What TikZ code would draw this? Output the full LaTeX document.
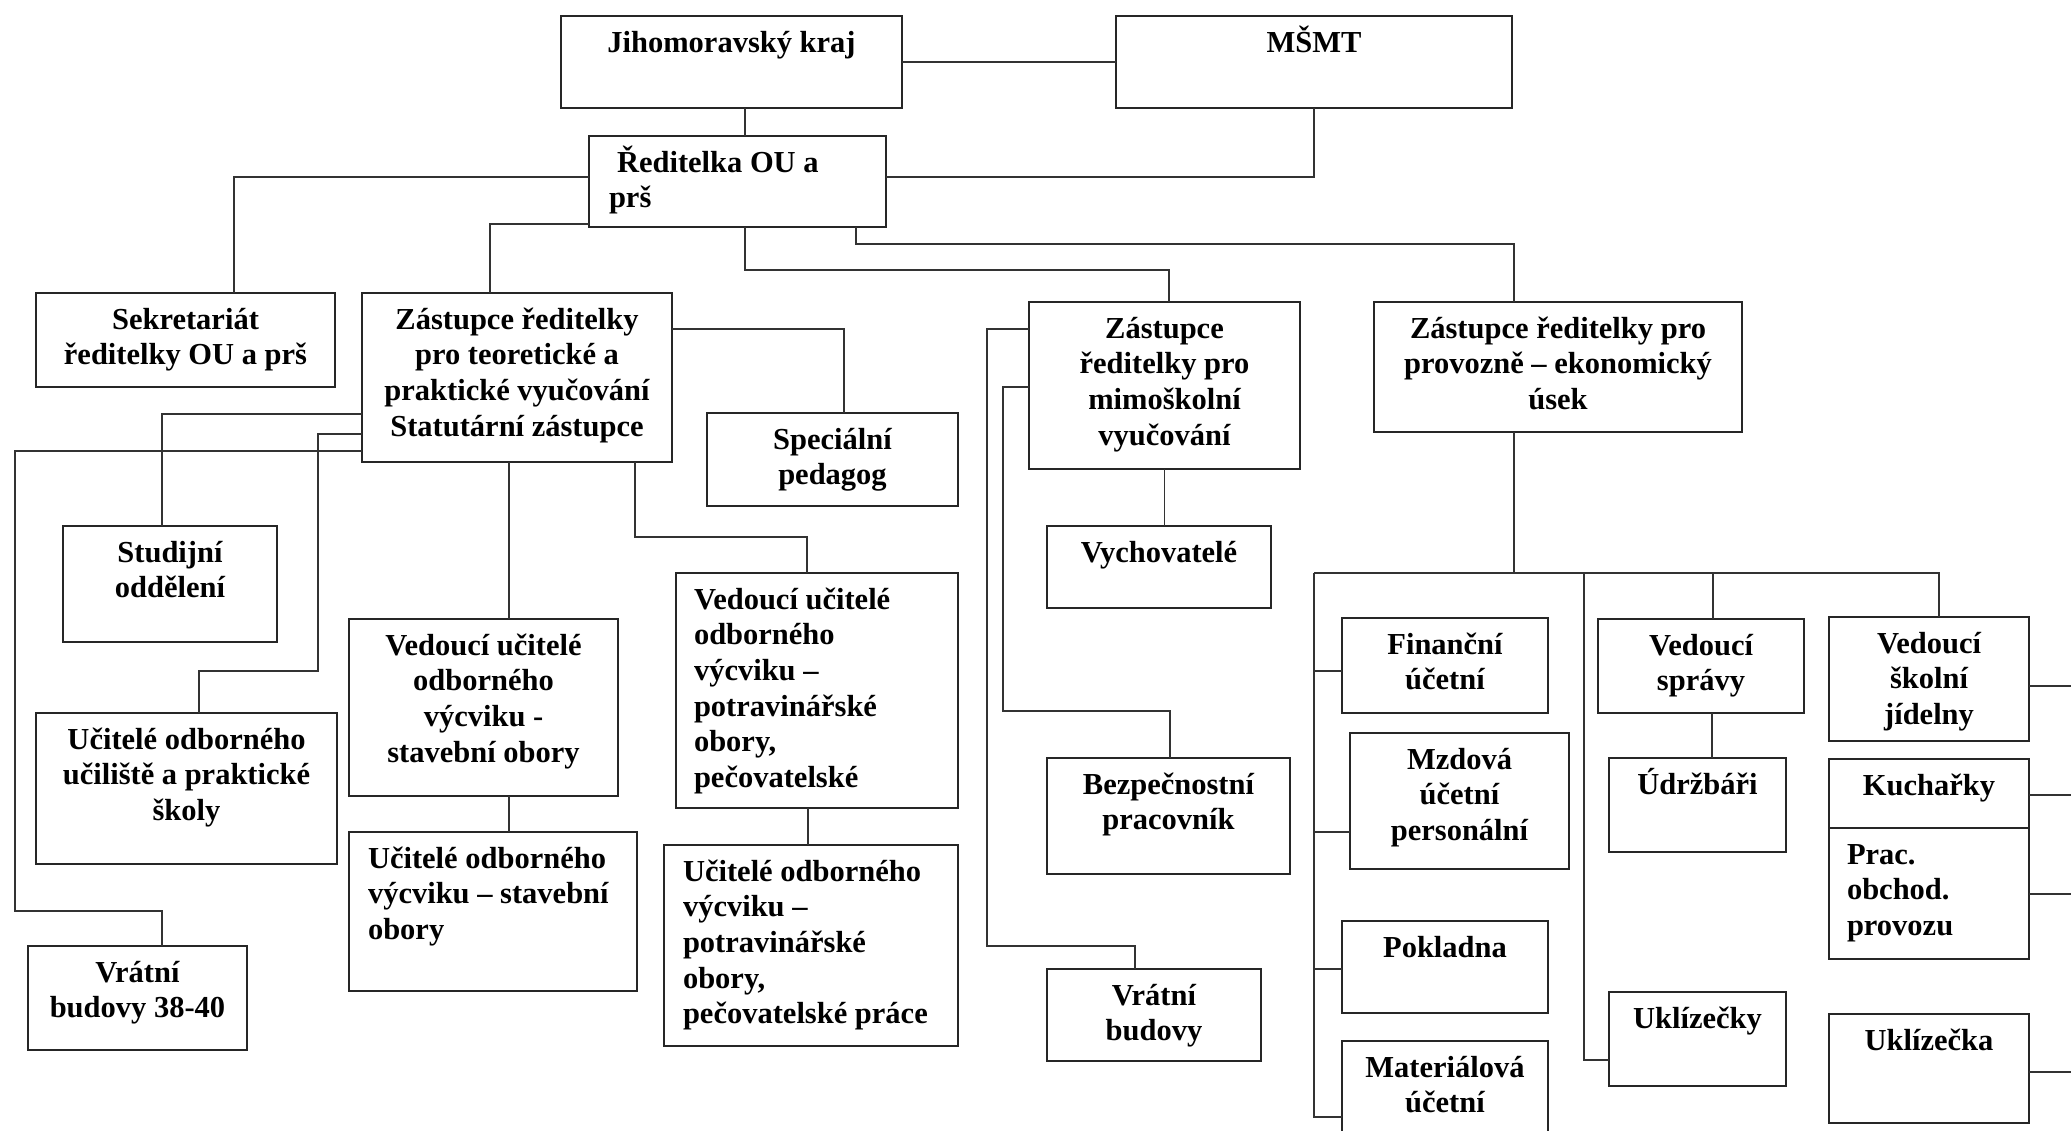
\documentclass[tikz,border=0pt]{standalone}
\usepackage{fontspec}
\setmainfont{Liberation Serif}
\usetikzlibrary{calc}
\newcommand{\ctext}[3]{\parbox[c][#2pt][t]{#1pt}{\centering\rule{0pt}{36pt}#3}}
\newcommand{\ltext}[4]{\parbox[c][#2pt][t]{#1pt}{\raggedright\leftskip=#3pt\rule{0pt}{36pt}#4}}

\begin{document}
\begin{tikzpicture}[
    x=1pt, y=-1pt,
    unit/.style={draw=black!85, line width=2pt, anchor=north west, inner sep=0pt, outer sep=0pt,
      font=\bfseries\fontsize{30.5}{35.7}\selectfont},
    link/.style={draw=black!80, line width=1.5pt}
  ]
    \path[fill=white,use as bounding box] (0,0) rectangle (2071,1130);

    % 顶层节点
    \node[unit] (jmk) at (561,16) {\ctext{341}{92}{Jihomoravský kraj}};
    \node[unit] (msmt) at (1116,16) {\ctext{396}{92}{MŠMT}};
    \node[unit] (red) at (589,136) {\ltext{297}{91}{20}{\hspace*{8pt}Ředitelka OU a\\prš}};

    % 第二层
    \node[unit] (sek) at (36,293) {\ctext{299}{94}{Sekretariát\\ředitelky OU a prš}};
    \node[unit] (zt) at (362,293) {\ctext{310}{169}{Zástupce ředitelky\\pro teoretické a\\praktické vyučování\\Statutární zástupce}};
    \node[unit] (spec) at (707,413) {\ctext{251}{93}{Speciální\\pedagog}};
    \node[unit] (zm) at (1029,302) {\ctext{271}{167}{Zástupce\\ředitelky pro\\mimoškolní\\vyučování}};
    \node[unit] (zp) at (1374,302) {\ctext{368}{130}{Zástupce ředitelky pro\\provozně – ekonomický\\úsek}};

    % 理论与实践教学
    \node[unit] (stud) at (63,526) {\ctext{214}{116}{Studijní\\oddělení}};
    \node[unit] (uuc) at (36,713) {\ctext{301}{151}{Učitelé odborného\\učiliště a praktické\\školy}};
    \node[unit] (vr1) at (28,946) {\ctext{219}{104}{Vrátní\\budovy 38-40}};
    \node[unit] (vst) at (349,619) {\ctext{269}{177}{Vedoucí učitelé\\odborného\\výcviku -\\stavební obory}};
    \node[unit] (ust) at (349,832) {\ltext{288}{159}{19}{Učitelé odborného\\výcviku – stavební\\obory}};
    \node[unit] (vpo) at (676,573) {\ltext{282}{235}{18}{Vedoucí učitelé\\odborného\\výcviku –\\potravinářské\\obory,\\pečovatelské}};
    \node[unit] (upo) at (664,845) {\ltext{294}{201}{19}{Učitelé odborného\\výcviku –\\potravinářské\\obory,\\pečovatelské práce}};

    % 课外教学
    \node[unit] (vych) at (1047,526) {\ctext{224}{82}{Vychovatelé}};
    \node[unit] (bez) at (1047,758) {\ctext{243}{116}{Bezpečnostní\\pracovník}};
    \node[unit] (vr2) at (1047,969) {\ctext{214}{92}{Vrátní\\budovy}};

    % 经济部门
    \node[unit] (fin) at (1342,618) {\ctext{206}{95}{Finanční\\účetní}};
    \node[unit] (mzd) at (1350,733) {\ctext{219}{136}{Mzdová\\účetní\\personální}};
    \node[unit] (pok) at (1342,921) {\ctext{206}{92}{Pokladna}};
    \node[unit] (mat) at (1342,1041) {\ctext{206}{110}{Materiálová\\účetní}};
    \node[unit] (vsp) at (1598,619) {\ctext{206}{94}{Vedoucí\\správy}};
    \node[unit] (udr) at (1609,758) {\ctext{177}{94}{Údržbáři}};
    \node[unit] (ukl) at (1609,992) {\ctext{177}{94}{Uklízečky}};
    \node[unit] (vsj) at (1829,617) {\ctext{200}{124}{Vedoucí\\školní\\jídelny}};
    \node[unit] (kuch) at (1829,759) {\ctext{200}{69}{Kuchařky}};
    \node[unit] (prac) at (1829,828) {\ltext{200}{131}{18}{Prac.\\obchod.\\provozu}};
    \node[unit] (ukl2) at (1829,1014) {\ctext{200}{109}{Uklízečka}};

    % 连线:顶层
    \draw[link] (jmk.east) -- (msmt.west);
    \draw[link] ([xshift=13.5pt]jmk.south) -- ([xshift=7.5pt]red.north);
    \draw[link] ([yshift=4.5pt]red.east) -| (msmt.south);
    \draw[link] ([yshift=4.5pt]red.west) -| ([xshift=48.5pt]sek.north);
    \draw[link] ([yshift=-42.5pt]red.west) -| ([xshift=-27pt]zt.north);
    \draw[link] ([xshift=7.5pt]red.south) |- ([xshift=4.5pt,yshift=32pt]zm.north) -- ([xshift=4.5pt]zm.north);
    \draw[link] ([xshift=118.5pt]red.south) |- ([xshift=-44pt,yshift=58pt]zp.north) -- ([xshift=-44pt]zp.north);

    % 连线:统计代表
    \draw[link] ([yshift=48.5pt]zt.east) -| ([xshift=11.5pt]spec.north);
    \draw[link] ([yshift=-36.5pt]zt.west) -| ([xshift=-8pt]stud.north);
    \draw[link] ([yshift=-56.5pt]zt.west) -| ([xshift=131.5pt,yshift=42pt]uuc.north) -| ([xshift=12.5pt]uuc.north);
    \draw[link] ([yshift=-73.5pt]zt.west) -| ([xshift=-122.5pt,yshift=35pt]vr1.north) -| ([xshift=24.5pt]vr1.north);
    \draw[link] ([xshift=-8pt]zt.south) -- ([xshift=25.5pt]vst.north);
    \draw[link] ([xshift=118pt]zt.south) |- ([xshift=-10pt,yshift=36pt]vpo.north) -- ([xshift=-10pt]vpo.north);
    \draw[link] ([xshift=25.5pt]vst.south) -- ([xshift=16pt]ust.north);
    \draw[link] ([xshift=-9pt]vpo.south) -- ([xshift=-3pt]upo.north);

    % 连线:课外
    \draw[link] (zm.south) -- ([xshift=5.5pt]vych.north);
    \draw[link] ([yshift=56.5pt]zm.west) -| ([xshift=-167pt,yshift=23pt]vr2.north) -| ([xshift=-19pt]vr2.north);
    \draw[link] ([yshift=-1.5pt]zm.west) -| ([xshift=-165.5pt,yshift=47pt]bez.north) -| ([xshift=1.5pt]bez.north);

    % 连线:经济部门
    \coordinate (busL) at (1314,573);
    \coordinate (busM) at (1584,573);
    \coordinate (busR) at (1939,573);
    \draw[link] ([xshift=-44pt]zp.south) -- ++(0,141);
    \draw[link] (busL) -- (busR) -- ([xshift=10pt]vsj.north);
    \draw[link] ([xshift=12pt]vsp.north) -- ++(0,-46);
    \draw[link] (busL) |- ([yshift=-21pt]mat.west);
    \foreach \b/\dy/\len in {fin/-5.5/28, mzd/-31/36, pok/-2/28}{
      \draw[link] ([yshift=\dy pt]\b.west) -- ++(-\len,0);
    }
    \draw[link] (busM) |- ([yshift=-21pt]ukl.west);
    \draw[link] ([xshift=11pt]vsp.south) -- ([xshift=14.5pt]udr.north);

    % 右侧伸出的线
    \foreach \b/\dy in {vsj/-7, kuch/-1.5, prac/-0.5, ukl2/-3.5}{
      \draw[link] ([yshift=\dy pt]\b.east) -- ++(60,0);
    }
\end{tikzpicture}
\end{document}
